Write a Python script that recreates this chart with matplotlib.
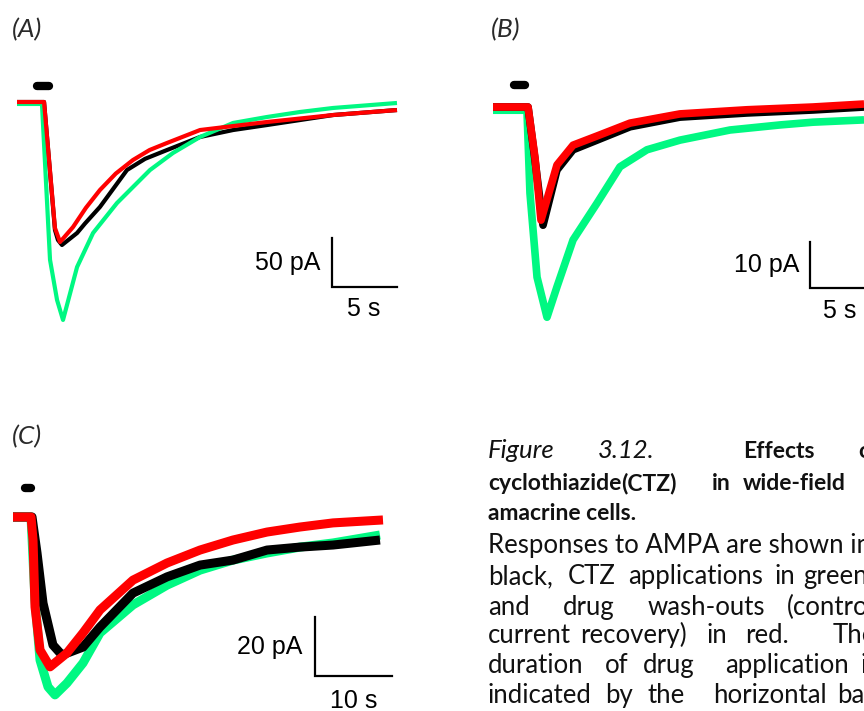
import matplotlib
matplotlib.use("Agg")
import matplotlib.pyplot as plt

W, H = 864, 711
fig = plt.figure(figsize=(W / 100, H / 100), dpi=100)

BLACK, GREEN, RED = "#000000", "#00F882", "#FF0000"
CAP_FONT = ["Lato", "DejaVu Sans"]
BAR_FONT = ["Liberation Sans", "DejaVu Sans"]

# ---------------- Panel A (time in s, current in pA) ----------------
a_black_t = [0, 2.08, 2.92, 3.15, 3.46, 4.62, 5.23, 6.38, 7.38, 8.46, 9.85, 11.54, 14.08, 16.62, 19.23, 21.77, 24.31, 29.23]
a_black_i = [0, 0, -130.6, -140.8, -145.9, -133.7, -124.0, -107.1, -89.0, -69.4, -58.0, -49.0, -35.7, -28.6, -23.5, -18.4, -13.3, -8.2]
a_green_t = [0, 1.92, 2.54, 3.08, 3.54, 4.62, 5.85, 7.69, 10.23, 12.0, 14.08, 16.62, 19.23, 21.77, 24.31, 29.23]
a_green_i = [-2, -2, -161, -202, -222.4, -168.4, -133.7, -103.1, -69.4, -52.0, -35.7, -21.4, -15.3, -10.2, -6.1, -1.0]
a_red_t = [0, 2.08, 2.92, 3.31, 4.31, 5.3, 6.38, 7.6, 8.92, 10.2, 11.54, 14.08, 19.23, 24.31, 29.23]
a_red_i = [0, 0, -128.6, -142.9, -127.6, -108.0, -89.8, -73.0, -59.2, -49.0, -41.8, -28.6, -20.4, -13.3, -8.2]
a_drug = [1.54, 2.46]
a_drug_level = 16.3
a_scale = (24.2, -188.8, 5, 50)  # t0, i0, seconds, pA
a_scale_labels = ("5 s", "50 pA")

# ---------------- Panel B ----------------
b_black_t = [0, 2.92, 3.5, 4.17, 5.33, 6.67, 8.67, 11.42, 15.58, 21.17, 26.67, 30.92]
b_black_i = [0, 0, -11.5, -25.7, -13.7, -9.3, -7.2, -4.3, -2.2, -1.3, -0.65, 0]
b_green_t = [0, 2.83, 3.08, 3.67, 4.5, 5.33, 6.67, 8.67, 10.58, 12.83, 15.58, 19.75, 23.92, 26.67, 30.92]
b_green_i = [-0.7, -0.7, -18.7, -37.0, -45.7, -39.1, -28.9, -20.9, -13.0, -9.3, -7.2, -5.0, -3.9, -3.3, -2.8]
b_red_t = [0, 2.92, 3.5, 4.0, 5.33, 6.67, 8.67, 11.42, 15.58, 21.17, 26.67, 30.92]
b_red_i = [0, 0, -11.0, -24.6, -12.6, -8.3, -6.3, -3.5, -1.5, -0.6, 0, 0.65]
b_drug = [1.75, 2.67]
b_drug_level = 4.8
b_scale = (26.42, -39.3, 5, 10)
b_scale_labels = ("5 s", "10 pA")

# ---------------- Panel C ----------------
c_black_t = [0, 2.47, 3.12, 3.90, 5.19, 6.36, 9.09, 11.30, 15.58, 20.0, 24.29, 28.57, 32.99, 37.27, 41.56, 47.66]
c_black_i = [0, 0, -12.2, -29.2, -43.4, -46.8, -44.1, -37.3, -25.8, -20.3, -16.3, -14.6, -11.2, -10.2, -9.5, -7.8]
c_green_t = [0, 2.34, 2.86, 3.51, 4.55, 5.45, 7.01, 9.09, 11.30, 15.58, 20.0, 24.29, 28.57, 32.99, 37.27, 41.56, 47.66]
c_green_i = [0, 0, -28.1, -48.5, -57.6, -60.3, -56.3, -49.5, -39.3, -29.8, -23.1, -18.0, -14.6, -12.2, -10.2, -8.8, -6.1]
c_red_t = [0, 2.34, 2.6, 2.86, 3.51, 4.81, 7.01, 9.09, 11.30, 15.58, 20.0, 24.29, 28.57, 32.99, 37.27, 41.56, 48.05]
c_red_i = [0, 0, -7.8, -30.5, -45.1, -50.8, -46.1, -39.3, -31.5, -21.4, -15.6, -11.2, -7.8, -5.1, -3.4, -2.0, -1.0]
c_drug = [1.56, 2.34]
c_drug_level = 9.8
c_scale = (39.2, -53.9, 10, 20)
c_scale_labels = ("10 s", "20 pA")


def panel(box, origin, sx, sy):
    x0, y0, x1, y1 = box
    ax = fig.add_axes([x0 / W, 1 - y1 / H, (x1 - x0) / W, (y1 - y0) / H])
    ox, oy = origin
    ax.set_xlim((x0 - ox) / sx, (x1 - ox) / sx)
    ax.set_ylim((oy - y1) / sy, (oy - y0) / sy)
    ax.axis("off")
    return ax


def draw(ax, traces, lw, drug, drug_level, scale, labels, lab_dx, lab_dy):
    for t, i, c in traces:
        ax.plot(t, i, color=c, lw=lw, solid_joinstyle="round", solid_capstyle="butt")
    ax.plot(drug, [drug_level] * 2, color="black", lw=6, solid_capstyle="round")
    t0, i0, dt, di = scale
    ax.plot([t0, t0, t0 + dt], [i0 + di, i0, i0], color="black", lw=1.6,
            solid_joinstyle="miter", clip_on=False)
    ax.annotate(labels[0], xy=(t0 + dt / 2, i0), xytext=(0, -lab_dy), textcoords="offset points",
                ha="center", va="center", fontsize=18, family=BAR_FONT, annotation_clip=False)
    ax.annotate(labels[1], xy=(t0, i0 + di / 2), xytext=(-lab_dx, 0), textcoords="offset points",
                ha="right", va="center", fontsize=18, family=BAR_FONT, annotation_clip=False)


axA = panel((0, 40, 440, 350), (17, 102), 13.0, 0.98)
draw(axA, [(a_black_t, a_black_i, BLACK), (a_green_t, a_green_i, GREEN), (a_red_t, a_red_i, RED)],
     3.0, a_drug, a_drug_level, a_scale, a_scale_labels, 8, 16)

axB = panel((470, 40, 864, 350), (493, 107), 12.0, 4.6)
draw(axB, [(b_green_t, b_green_i, GREEN), (b_black_t, b_black_i, BLACK), (b_red_t, b_red_i, RED)],
     5.5, b_drug, b_drug_level, b_scale, b_scale_labels, 8, 17)

axC = panel((0, 460, 440, 711), (13, 517), 7.7, 2.95)
draw(axC, [(c_green_t, c_green_i, GREEN), (c_black_t, c_black_i, BLACK), (c_red_t, c_red_i, RED)],
     6.5, c_drug, c_drug_level, c_scale, c_scale_labels, 9, 18)

# panel letters
for lab, x, y in [("(A)", 12, 30), ("(B)", 491, 30), ("(C)", 12, 437)]:
    fig.text(x / W, 1 - y / H, lab, fontsize=19, style="italic", weight="normal", family=CAP_FONT,
             ha="left", va="center", color="#2a2a2a")

# caption, justified words (baseline px, [(word, x px, style)])
caption = [
    (458, [("Figure", 488, "i"), ("3.12.", 598, "i"), ("Effects", 743, "b"), ("of", 858, "b")]),
    (490, [("cyclothiazide", 488, "b"), ("(CTZ)", 621, "b"), ("in", 712, "b"), ("wide-field", 743, "b")]),
    (520, [("amacrine cells.", 488, "b")]),
    (553, [("Responses to AMPA are shown in", 488, "n")]),
    (584, [("black,", 488, "n"), ("CTZ", 568, "n"), ("applications", 628, "n"), ("in", 775, "n"), ("green,", 803, "n")]),
    (615, [("and", 488, "n"), ("drug", 563, "n"), ("wash-outs", 648, "n"), ("(control", 787, "n")]),
    (643, [("current", 488, "n"), ("recovery)", 580, "n"), ("in", 707, "n"), ("red.", 745, "n"), ("The", 833, "n")]),
    (673, [("duration", 488, "n"), ("of", 605, "n"), ("drug", 643, "n"), ("application", 725, "n"), ("is", 860, "n")]),
    (703, [("indicated", 488, "n"), ("by", 605, "n"), ("the", 647, "n"), ("horizontal", 713, "n"), ("bar", 837, "n")]),
]
for yb, words in caption:
    for w, x, s in words:
        fig.text(x / W, 1 - yb / H, w, fontsize=16.5 if s == "b" else 18.5, family=CAP_FONT,
                 ha="left", va="baseline",
                 style="italic" if s == "i" else "normal",
                 weight="bold" if s == "b" else "normal", color="#111111")

fig.savefig("out.png", dpi=100)
